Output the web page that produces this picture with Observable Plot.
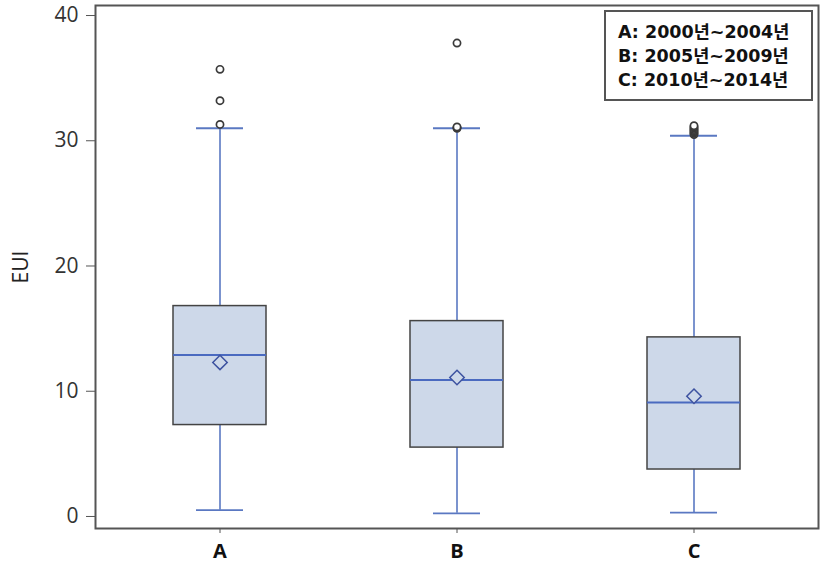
<!DOCTYPE html>
<html>
<head>
<meta charset="utf-8">
<script src="https://cdn.jsdelivr.net/npm/d3@7"></script>
<script src="https://cdn.jsdelivr.net/npm/@observablehq/plot@0.6"></script>
<style>
  body { margin: 0; background: #fff; }
  #wrap { position: relative; width: 827px; height: 566px; }
  #legend {
    position: absolute; left: 604px; top: 10px; width: 205px; height: 79px;
    border: 2px solid #555; background: #fff; box-sizing: content-box;
    font-family: "DejaVu Sans", "Noto Sans CJK KR", sans-serif; font-weight: bold; font-size: 17.5px;
    color: #111; line-height: 24px; padding-top: 8px;
  }
  #legend div { padding-left: 12px; white-space: nowrap; }
</style>
</head>
<body>
<div id="wrap"></div>
<script>
const groups = ["A", "B", "C"];
const whiskerLow = [0.5, 0.25, 0.3];
const q1 = [7.3, 5.5, 3.75];
const median = [12.9, 10.9, 9.1];
const q3 = [16.8, 15.6, 14.3];
const whiskerHigh = [31.0, 31.0, 30.4];
const mean = [12.3, 11.1, 9.6];
const outlierGroup = ["A", "A", "A", "B", "B", "B", "B", "C", "C", "C", "C", "C", "C", "C", "C"];
const outlierValue = [35.7, 33.2, 31.3, 37.8, 31.0, 31.05, 31.1, 30.5, 30.6, 30.7, 30.8, 30.9, 31.0, 31.1, 31.2];
const legendLabels = ["A: 2000년~2004년", "B: 2005년~2009년", "C: 2010년~2014년"];

const stats = groups.map((g, i) => ({
  g, lo: whiskerLow[i], q1: q1[i], med: median[i], q3: q3[i], hi: whiskerHigh[i], mean: mean[i]
}));
const outliers = outlierGroup.map((g, i) => ({ g, v: outlierValue[i] }));

const blue = "#5a78c2";
const chart = Plot.plot({
  width: 827,
  height: 566,
  marginLeft: 95,
  marginRight: 9,
  marginTop: 5,
  marginBottom: 38,
  style: { fontFamily: "'Open Sans', 'Noto Sans', sans-serif", color: "#333", background: "#fff" },
  x: { type: "band", domain: groups, paddingInner: 0.609, paddingOuter: 0.324, label: null },
  y: { domain: [-0.96, 40.8], ticks: [0, 10, 20, 30, 40], label: "EUI" },
  marks: [
    Plot.ruleX(stats, { x: "g", y1: "lo", y2: "q1", stroke: blue, strokeWidth: 1.6 }),
    Plot.ruleX(stats, { x: "g", y1: "q3", y2: "hi", stroke: blue, strokeWidth: 1.6 }),
    Plot.tickY(stats, { x: "g", y: "lo", stroke: blue, strokeWidth: 1.8, insetLeft: 23, insetRight: 23 }),
    Plot.tickY(stats, { x: "g", y: "hi", stroke: blue, strokeWidth: 1.8, insetLeft: 23, insetRight: 23 }),
    Plot.barY(stats, { x: "g", y1: "q1", y2: "q3", fill: "#cdd8e9", stroke: "#444", strokeWidth: 1.5 }),
    Plot.tickY(stats, { x: "g", y: "med", stroke: "#4a6ac0", strokeWidth: 2 }),
    Plot.dot(stats, { x: "g", y: "mean", symbol: "diamond2", r: 6.5, stroke: "#3d52a0", strokeWidth: 1.5, fill: "#cdd8e9" }),
    Plot.dot(outliers, { x: "g", y: "v", r: 3.6, stroke: "#3a3a3a", strokeWidth: 1.7, fill: "#fff" }),
    Plot.axisY({ ticks: [0, 10, 20, 30, 40], tickSize: 9, tickPadding: 8, fontSize: 21, stroke: "#555", fill: "#333",
      label: null }),
    Plot.axisY({ ticks: [], label: "EUI", labelAnchor: "center", labelArrow: "none", labelOffset: 82, fontSize: 21, fill: "#222" }),
    Plot.axisX({ tickSize: 5, tickPadding: 10, fontSize: 20, fontWeight: "bold", fill: "#111", stroke: "#555" }),
    Plot.frame({ stroke: "#555", strokeWidth: 2 })
  ]
});
const wrap = document.getElementById("wrap");
wrap.appendChild(chart);
const legend = document.createElement("div");
legend.id = "legend";
legendLabels.forEach(t => {
  const d = document.createElement("div");
  d.textContent = t;
  legend.appendChild(d);
});
wrap.appendChild(legend);
</script>
</body>
</html>
